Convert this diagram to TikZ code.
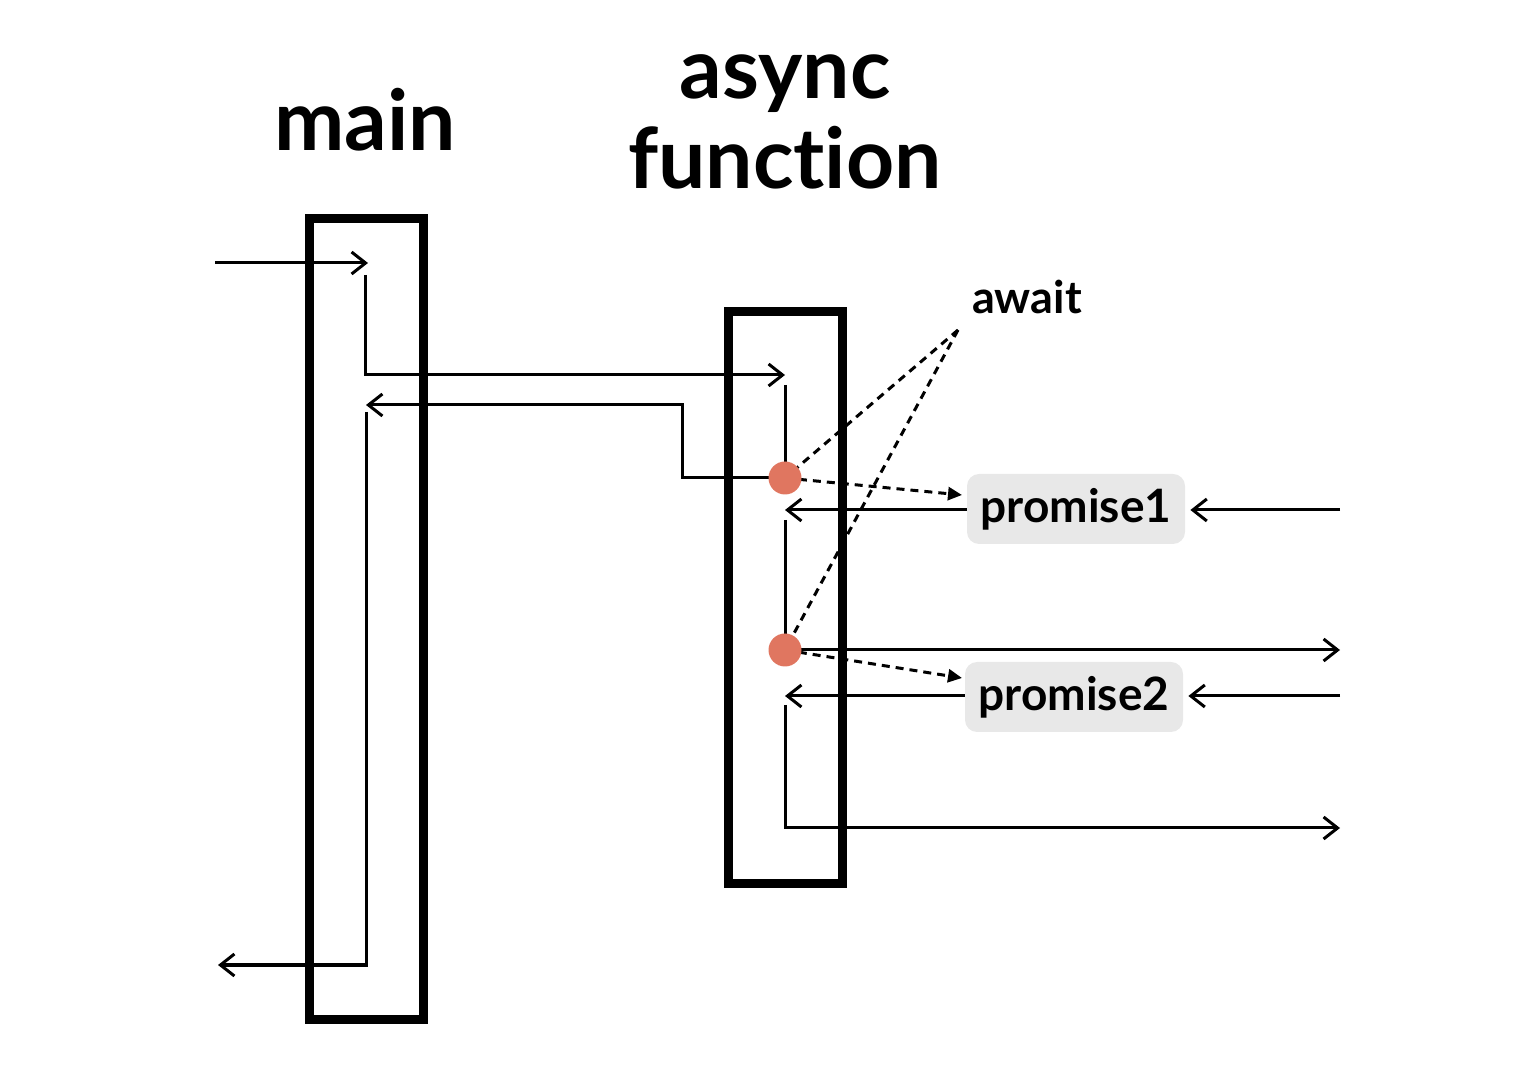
\documentclass[tikz,border=0pt]{standalone}
\usepackage{fontspec}
\setmainfont{Lato}[Ligatures={NoCommon}]
\usetikzlibrary{arrows.meta}
\definecolor{dotred}{RGB}{224,118,96}
\definecolor{pgray}{RGB}{232,232,232}
\tikzset{
  thinline/.style={line width=1.5pt, draw=black},
  arr/.style={thinline, -{Straight Barb[length=7pt,width=11pt,line width=1.5pt]}},
  dasharr/.style={line width=1.5pt, dash pattern=on 4pt off 3pt, -{Triangle[length=7pt,width=6.5pt]}},
  dashline/.style={line width=1.5pt, dash pattern=on 4pt off 3pt},
  frame/.style={line width=4.5pt, draw=black},
  title/.style={font=\bfseries\fontsize{42}{45}\selectfont, inner sep=0pt},
  await/.style={font=\bfseries\fontsize{22.5}{26}\selectfont, inner sep=0pt},
  pbox/.style={fill=pgray, rounded corners=6pt, minimum width=109pt, minimum height=35pt, inner sep=0pt, font=\bfseries\fontsize{23}{26}\selectfont},
  dot/.style={circle, fill=dotred, minimum size=16.5pt, inner sep=0pt},
}
\begin{document}
\begin{tikzpicture}[x=0.5pt,y=-0.5pt]
\useasboundingbox (0,0) rectangle (1516,1068);
% titles
\node[title] (tmain) at (365,120) {main};
\node[title, align=center] (tasync) at (785,122) {async\\function};
\node[await] (taw) at (1027,297) {await};
% frames
\draw[frame] (309,219) rectangle (423,1019);
\draw[frame] (728,312) rectangle (842,884);
% promise boxes
\node[pbox] (p1) at (1076,509) {promise1};
\node[pbox] (p2) at (1074,697) {promise2};
% dots positions
\coordinate (d1c) at (785,478);
\coordinate (d2c) at (785,650);
% free-end coordinates
\coordinate (inS) at (215,263);
\coordinate (inE) at (368,263);
\coordinate (a1) at (365,275);
\coordinate (a2) at (785,375);
\coordinate (a3) at (785,385);
\coordinate (b1) at (682,478);
\coordinate (b2) at (366,405);
\coordinate (c1) at (366,412);
\coordinate (c2) at (218,965);
\coordinate (p1in) at (962,495);
\coordinate (p1out) at (785,510);
\coordinate (r1) at (1340,510);
\coordinate (e1) at (785,520);
\coordinate (r2) at (1340,650);
\coordinate (p2in) at (962,678);
\coordinate (p2out) at (785,696);
\coordinate (r3) at (1340,696);
\coordinate (f1) at (785,705);
\coordinate (r4) at (1340,828);
\coordinate (aw) at (958,330);
% main flow
\draw[arr] (inS) -- (inE);
\draw[arr] (a1) |- (a2);
\draw[thinline] (a3) -- (d1c);
\draw[arr] (d1c) -- (b1) -- (682,405) -- (b2);
\draw[arr] (c1) |- (c2);
\draw[arr] (p1.west |- r1) -- (p1out);
\draw[arr] (r1) -- ([xshift=2.5pt]p1.east |- r1);
\draw[thinline] (e1) -- (d2c);
\draw[arr] (d2c) -- (r2);
\draw[arr] (p2.west |- r3) -- (p2out);
\draw[arr] (r3) -- ([xshift=2.5pt]p2.east |- r3);
\draw[arr] (f1) |- (r4);
% await dashed
\draw[dashline] (aw) -- (d1c);
\draw[dashline] (aw) -- (d2c);
\draw[dasharr] (d1c) -- (p1in);
\draw[dasharr] (d2c) -- (p2in);
% dots
\node[dot] (d1) at (d1c) {};
\node[dot] (d2) at (d2c) {};
\end{tikzpicture}
\end{document}
